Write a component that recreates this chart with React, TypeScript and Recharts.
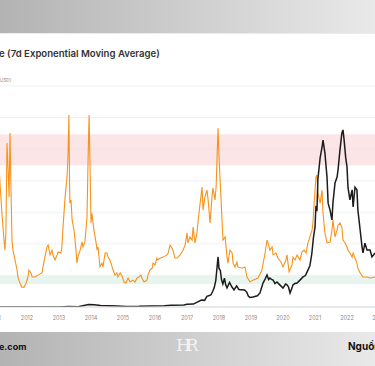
import {
  LineChart,
  Line,
  XAxis,
  YAxis,
  CartesianGrid,
  ReferenceArea,
} from "recharts";

// indicator (orange), 7d EMA, decimal year -> value
const indicatorYears = [
  2011.12, 2011.156, 2011.22, 2011.28, 2011.31, 2011.34, 2011.375, 2011.41, 2011.44, 2011.47,
  2011.5, 2011.53, 2011.56, 2011.625, 2011.69, 2011.72, 2011.78, 2011.84, 2011.91, 2011.97,
  2012.03, 2012.06, 2012.125, 2012.16, 2012.25, 2012.34, 2012.47, 2012.5, 2012.56, 2012.625,
  2012.66, 2012.72, 2012.78, 2012.81, 2012.875, 2012.94, 2012.97, 2013.06, 2013.09, 2013.125,
  2013.19, 2013.25, 2013.28, 2013.31, 2013.33, 2013.34, 2013.375, 2013.41, 2013.47, 2013.53,
  2013.56, 2013.59, 2013.66, 2013.72, 2013.75, 2013.81, 2013.875, 2013.91, 2013.94, 2013.97,
  2014.0, 2014.03, 2014.09, 2014.16, 2014.19, 2014.22, 2014.28, 2014.34, 2014.375, 2014.44,
  2014.5, 2014.53, 2014.59, 2014.66, 2014.69, 2014.75, 2014.81, 2014.84, 2014.91, 2014.97,
  2015.03, 2015.09, 2015.16, 2015.22, 2015.31, 2015.375, 2015.44, 2015.5, 2015.56, 2015.59,
  2015.66, 2015.75, 2015.78, 2015.84, 2015.91, 2015.94, 2016.0, 2016.06, 2016.09, 2016.16,
  2016.25, 2016.375, 2016.41, 2016.47, 2016.53, 2016.56, 2016.625, 2016.69, 2016.72, 2016.78,
  2016.84, 2016.875, 2016.94, 2017.0, 2017.03, 2017.09, 2017.16, 2017.19, 2017.25, 2017.31,
  2017.34, 2017.41, 2017.47, 2017.5, 2017.56, 2017.625, 2017.66, 2017.72, 2017.78, 2017.81,
  2017.875, 2017.91, 2017.94, 2017.97, 2018.0, 2018.06, 2018.09, 2018.125, 2018.19, 2018.25,
  2018.28, 2018.34, 2018.41, 2018.44, 2018.5, 2018.56, 2018.59, 2018.72, 2018.81, 2018.875,
  2018.97, 2019.06, 2019.22, 2019.34, 2019.44, 2019.5, 2019.53, 2019.59, 2019.66, 2019.69,
  2019.78, 2019.84, 2019.94, 2020.0, 2020.09, 2020.125, 2020.19, 2020.28, 2020.31, 2020.375,
  2020.44, 2020.53, 2020.59, 2020.66, 2020.72, 2020.78, 2020.91, 2020.94, 2021.0, 2021.03,
  2021.06, 2021.09, 2021.16, 2021.22, 2021.25, 2021.31, 2021.375, 2021.47, 2021.53, 2021.56,
  2021.625, 2021.69, 2021.72, 2021.78, 2021.84, 2021.875, 2021.94, 2022.0, 2022.03, 2022.09,
  2022.16, 2022.19, 2022.25, 2022.31, 2022.34, 2022.41, 2022.5, 2022.625, 2022.72, 2022.875,
];
const indicatorValues = [
  4.6, 3.92, 2.91, 2.12, 1.8, 2.37, 5.19, 4.34, 3.48, 5.51,
  3.7, 2.12, 1.8, 1.49, 1.17, 0.92, 0.76, 0.63, 0.63, 0.76,
  0.95, 1.17, 1.08, 0.95, 0.95, 1.01, 1.08, 1.27, 1.58, 1.9,
  1.96, 1.65, 1.8, 1.65, 1.49, 1.65, 1.74, 1.71, 1.9, 2.53,
  3.48, 4.11, 4.75, 6.08, 3.92, 3.29, 3.39, 2.75, 2.44, 1.8,
  1.39, 1.58, 1.8, 2.06, 1.9, 2.06, 2.85, 4.75, 6.08, 4.43,
  2.66, 2.97, 2.44, 2.03, 1.8, 1.9, 1.27, 1.39, 1.27, 1.71,
  1.71, 1.58, 1.49, 1.27, 1.17, 1.01, 1.08, 0.95, 1.08, 0.98,
  0.79, 0.76, 0.92, 0.79, 0.85, 0.79, 0.92, 0.95, 1.01, 0.92,
  0.79, 0.85, 1.01, 1.17, 1.23, 1.39, 1.33, 1.55, 1.49, 1.55,
  1.58, 1.65, 1.71, 1.96, 1.87, 1.8, 1.55, 1.55, 1.58, 1.65,
  1.74, 1.8, 1.96, 2.34, 2.03, 2.22, 2.12, 2.53, 2.03, 2.34,
  2.66, 3.29, 3.8, 3.07, 3.48, 3.7, 3.39, 2.66, 3.48, 3.77,
  3.39, 3.8, 4.75, 5.66, 4.75, 3.48, 2.85, 2.12, 2.22, 1.58,
  1.39, 1.8, 1.71, 1.39, 1.27, 1.42, 1.27, 1.23, 1.27, 0.95,
  0.79, 0.85, 0.92, 1.17, 1.71, 2.12, 2.03, 1.8, 1.9, 1.65,
  1.71, 1.55, 1.42, 1.27, 1.49, 1.65, 1.11, 1.33, 1.58, 1.49,
  1.65, 1.49, 1.74, 1.8, 1.71, 2.03, 2.44, 2.75, 3.7, 4.11,
  4.18, 3.61, 3.29, 3.7, 2.97, 2.34, 2.03, 2.06, 2.44, 2.75,
  2.22, 2.44, 2.59, 2.66, 2.53, 2.12, 2.03, 1.9, 1.8, 1.71,
  1.58, 1.71, 1.55, 1.39, 1.23, 1.08, 0.95, 0.95, 0.92, 0.95,
];

// BTC price (black), USD
const priceYears = [
  2011.1, 2011.45, 2011.9, 2012.5, 2013.0, 2013.3, 2013.6, 2013.92, 2014.1, 2014.3,
  2014.8, 2015.1, 2015.5, 2015.9, 2016.3, 2016.5, 2016.9, 2017.0, 2017.2, 2017.35,
  2017.45, 2017.55, 2017.62, 2017.7, 2017.75, 2017.8, 2017.85, 2017.9, 2017.94, 2017.97,
  2018.0, 2018.04, 2018.08, 2018.12, 2018.17, 2018.21, 2018.25, 2018.33, 2018.4, 2018.47,
  2018.55, 2018.62, 2018.7, 2018.8, 2018.87, 2018.92, 2018.97, 2019.06, 2019.2, 2019.28,
  2019.375, 2019.44, 2019.5, 2019.55, 2019.59, 2019.64, 2019.69, 2019.75, 2019.81, 2019.9,
  2020.0, 2020.08, 2020.125, 2020.17, 2020.22, 2020.28, 2020.31, 2020.37, 2020.44, 2020.53,
  2020.625, 2020.7, 2020.75, 2020.84, 2020.9, 2020.95, 2021.0, 2021.03, 2021.06, 2021.09,
  2021.16, 2021.22, 2021.25, 2021.31, 2021.375, 2021.41, 2021.47, 2021.53, 2021.56, 2021.625,
  2021.69, 2021.72, 2021.78, 2021.84, 2021.875, 2021.91, 2021.96, 2022.0, 2022.03, 2022.09,
  2022.16, 2022.19, 2022.25, 2022.31, 2022.34, 2022.41, 2022.47, 2022.5, 2022.56, 2022.625,
  2022.72, 2022.78, 2022.875,
];
const priceUsd = [
  1, 20, 3, 7, 13, 150, 100, 900, 800, 550,
  380, 230, 260, 400, 430, 650, 750, 1000, 1100, 2000,
  2600, 2500, 4000, 4300, 4600, 5800, 7200, 10000, 15000, 18800,
  14500, 13800, 10200, 8600, 10800, 8300, 7200, 9200, 7600, 6400,
  7900, 6600, 6500, 6400, 5500, 4000, 3600, 3760, 4200, 5260,
  9000, 10500, 12000, 10300, 10900, 10400, 10100, 8800, 9400, 8300,
  7100, 8600, 8300, 7600, 5260, 7100, 8300, 8800, 9000, 10100,
  11300, 11800, 13100, 15500, 20000, 26000, 30000, 38000, 36000, 48000,
  56000, 60000, 62700, 57800, 48800, 39000, 36400, 32700, 39000, 46600,
  48800, 51500, 59000, 65400, 66500, 62700, 56000, 52600, 45000, 40200,
  44000, 37600, 45000, 44000, 36400, 29000, 22500, 20300, 24000, 21400,
  21400, 18800, 20300,
];

const yearTicks = [2011, 2012, 2013, 2014, 2015, 2016, 2017, 2018, 2019, 2020, 2021, 2022, 2023];
const gridTicks = [0, 1, 2, 3, 4, 5, 6, 7];

const indicatorData = indicatorYears.map((t, i) => ({ t, v: indicatorValues[i] }));
const priceData = priceYears.map((t, i) => ({ t, p: priceUsd[i] }));

const FONT = "Inter, 'Noto Sans', sans-serif";
const BAND = "linear-gradient(to right, #b3b3b3, #e9e9e9)";

export default function App() {
  return (
    <div
      style={{
        position: "absolute",
        top: 0,
        left: 0,
        width: 375,
        height: 366,
        overflow: "hidden",
        background: "#fff",
        fontFamily: FONT,
      }}
    >
      <div style={{ position: "absolute", top: 0, left: 0, width: 375, height: 33, background: BAND }} />
      <div style={{ position: "absolute", top: 33, left: 0, width: 375, height: 1, background: "#ececec" }} />

      <div
        style={{
          position: "absolute",
          top: 48,
          left: -1,
          fontSize: 9.6,
          fontWeight: 600,
          color: "#333",
          whiteSpace: "nowrap",
        }}
      >
        e (7d Exponential Moving Average)
      </div>
      <div style={{ position: "absolute", top: 78, left: 0, fontSize: 4.6, color: "#888", whiteSpace: "nowrap" }}>
        USD)
      </div>

      <div style={{ position: "absolute", top: 80, left: -20 }}>
        <LineChart width={420} height={250} margin={{ top: 6, right: 0, bottom: 0, left: 0 }}>
          <CartesianGrid vertical={false} stroke="#f1f1f1" strokeWidth={1} />
          <XAxis
            dataKey="t"
            type="number"
            domain={[2010.531, 2023.656]}
            ticks={yearTicks}
            allowDataOverflow
            height={23}
            axisLine={{ stroke: "#d9d9d9" }}
            tickLine={false}
            tickMargin={3}
            tick={{ fontSize: 5.5, fill: "#8a8a8a", fontFamily: FONT }}
            interval={0}
          />
          <YAxis type="number" domain={[0, 7]} ticks={gridTicks} hide allowDataOverflow />
          <YAxis yAxisId="price" orientation="right" type="number" domain={[0, 83000]} hide allowDataOverflow />
          <ReferenceArea y1={4.49} y2={5.47} fill="#f9d4d6" fillOpacity={0.6} stroke="none" ifOverflow="hidden" />
          <ReferenceArea y1={0.73} y2={0.98} fill="#d7efe3" fillOpacity={0.6} stroke="none" ifOverflow="hidden" />
          <Line
            data={indicatorData}
            dataKey="v"
            type="linear"
            stroke="#f7931a"
            strokeWidth={1.1}
            dot={false}
            isAnimationActive={false}
          />
          <Line
            data={priceData}
            dataKey="p"
            yAxisId="price"
            type="linear"
            stroke="#1c1c1c"
            strokeWidth={1.5}
            dot={false}
            isAnimationActive={false}
          />
        </LineChart>
      </div>

      <div style={{ position: "absolute", top: 332, left: 0, width: 375, height: 34, background: BAND }} />
      <div
        style={{
          position: "absolute",
          top: 341,
          left: -1,
          fontSize: 9,
          fontWeight: 700,
          color: "#111",
          whiteSpace: "nowrap",
        }}
      >
        e.com
      </div>
      <div
        style={{
          position: "absolute",
          top: 335,
          left: 176,
          fontSize: 17,
          fontFamily: "'DejaVu Serif', serif",
          color: "rgba(255,255,255,0.75)",
          letterSpacing: -5,
          whiteSpace: "nowrap",
        }}
      >
        HR
      </div>
      <div
        style={{
          position: "absolute",
          top: 340,
          left: 348,
          fontSize: 10,
          fontWeight: 700,
          color: "#111",
          whiteSpace: "nowrap",
        }}
      >
        Nguồn
      </div>
    </div>
  );
}
